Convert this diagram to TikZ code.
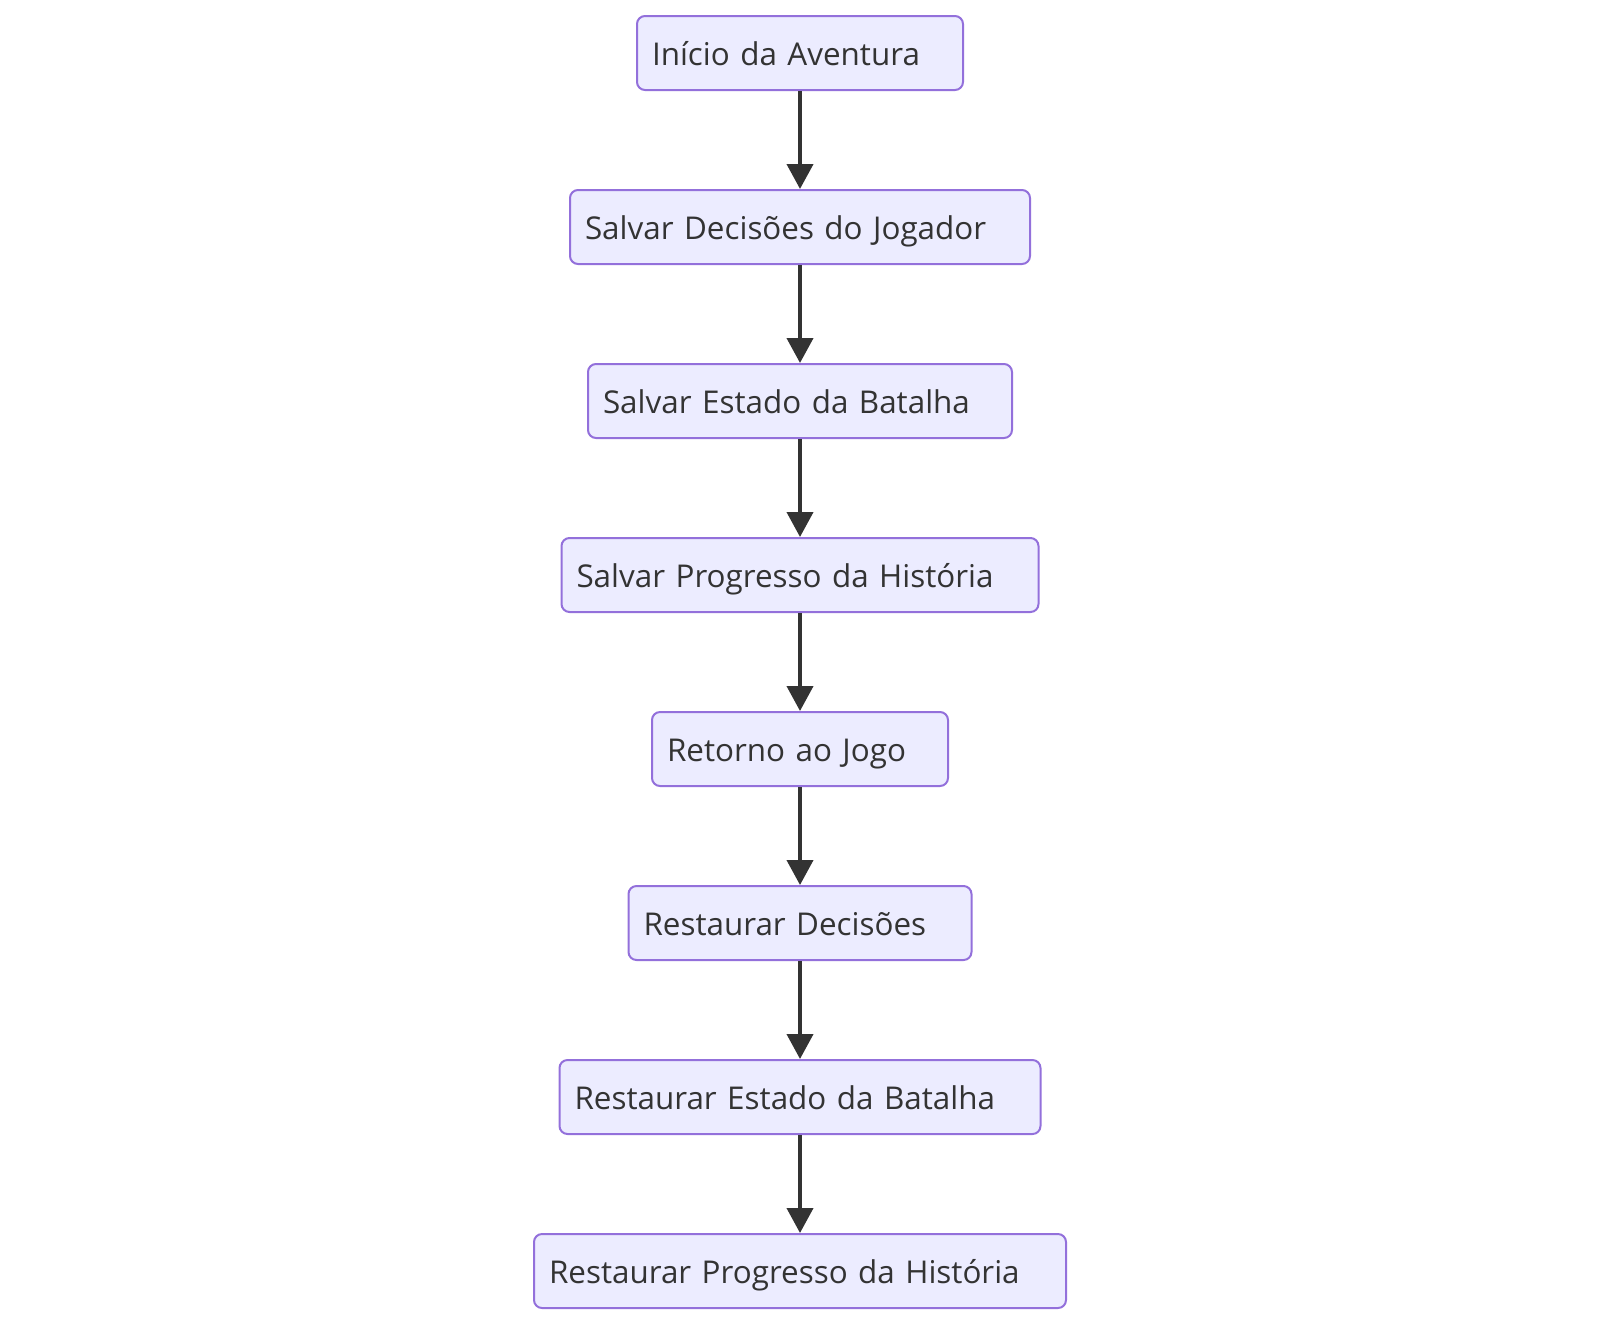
\documentclass[tikz,border=0pt]{standalone}
\usepackage{fontspec}
\setmainfont{Open Sans}
\usetikzlibrary{arrows.meta}
\definecolor{boxfill}{HTML}{ECECFF}
\definecolor{boxline}{HTML}{9370DB}
\definecolor{ink}{HTML}{333333}
\tikzset{
  stepbox/.style={draw=boxline, fill=boxfill, line width=1pt, rounded corners=4pt,
    minimum height=37pt, inner xsep=7.5pt, inner ysep=0pt, align=left,
    text height=16pt, text depth=4pt,
    text=ink, font=\fontsize{15.7pt}{19pt}\selectfont},
  flow/.style={draw=ink, line width=2pt, -{Triangle[width=13pt,length=12.5pt]}}
}
\begin{document}
\begin{tikzpicture}[x=0.5pt,y=-0.5pt]
\useasboundingbox (0,0) rectangle (1600,1324);
\node[stepbox, text width=148pt] (n1) at (800,53) {Início da Aventura};
\node[stepbox, text width=215pt] (n2) at (800,227) {Salvar Decisões do Jogador};
\node[stepbox, text width=197pt] (n3) at (800,401) {Salvar Estado da Batalha};
\node[stepbox, text width=223.5pt] (n4) at (800,575) {Salvar Progresso da História};
\node[stepbox, text width=133pt] (n5) at (800,749) {Retorno ao Jogo};
\node[stepbox, text width=156.5pt] (n6) at (800,923) {Restaurar Decisões};
\node[stepbox, text width=225.5pt] (n7) at (800,1097) {Restaurar Estado da Batalha};
\node[stepbox, text width=251pt] (n8) at (800,1271) {Restaurar Progresso da História};
\draw[flow] (n1) -- (n2);
\draw[flow] (n2) -- (n3);
\draw[flow] (n3) -- (n4);
\draw[flow] (n4) -- (n5);
\draw[flow] (n5) -- (n6);
\draw[flow] (n6) -- (n7);
\draw[flow] (n7) -- (n8);
\end{tikzpicture}
\end{document}
